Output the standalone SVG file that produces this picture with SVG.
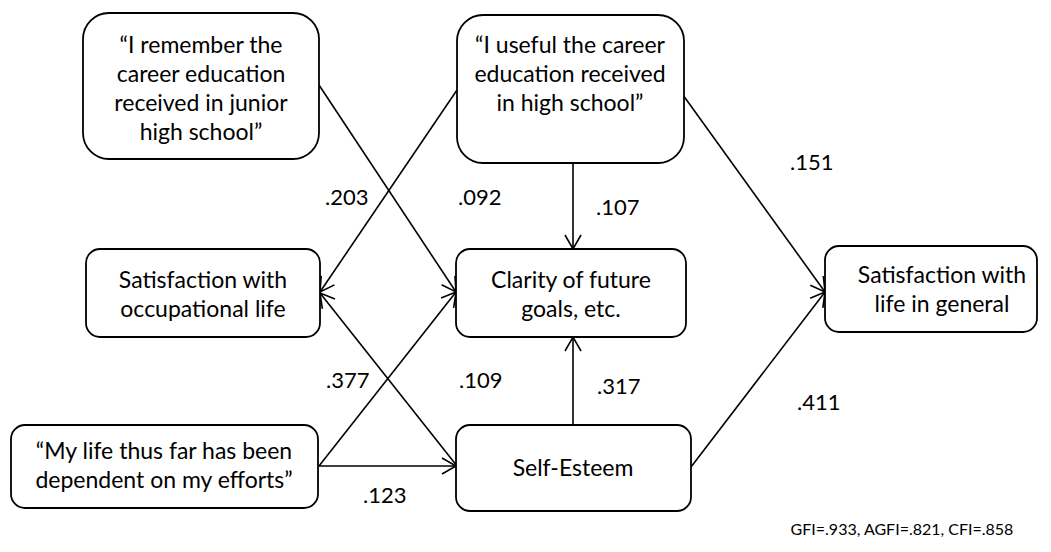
<svg xmlns="http://www.w3.org/2000/svg" width="1051" height="552" viewBox="0 0 1051 552">
<style>
.box{fill:#fff;stroke:#000;stroke-width:1.8}
.t{font-family:Lato,"Liberation Sans",sans-serif;font-size:23px;fill:#000;text-anchor:middle}
.l{font-family:Lato,"Liberation Sans",sans-serif;font-size:22px;fill:#000}
.e{stroke:#000;stroke-width:1.6;fill:none;marker-end:url(#ah)}
</style>
<defs>
<marker id="ah" markerUnits="userSpaceOnUse" markerWidth="20" markerHeight="20" refX="0" refY="0" viewBox="-16 -10 20 20" orient="auto" overflow="visible">
<path d="M-14,-8 L0,0 L-14,8" fill="none" stroke="#000" stroke-width="1.6"/>
</marker>
</defs>
<rect width="1051" height="552" fill="#fff"/>
<g id="connectors">
<line class="e" x1="319" y1="85" x2="456" y2="292"/>
<line class="e" x1="457" y1="90" x2="320" y2="292"/>
<line class="e" x1="573" y1="163" x2="573" y2="249"/>
<line class="e" x1="683" y1="95" x2="825" y2="292"/>
<line class="e" x1="319" y1="466" x2="456" y2="292"/>
<line class="e" x1="319" y1="466" x2="456" y2="466"/>
<line class="e" x1="457" y1="466" x2="320" y2="293"/>
<line class="e" x1="573" y1="425" x2="573" y2="337"/>
<line class="e" x1="691" y1="467" x2="825" y2="292"/>
</g>
<g id="n1"><rect class="box" x="83" y="13" width="236" height="146" rx="26"/>
<text class="t" x="201" y="53">“I remember the</text><text class="t" x="201" y="82">career education</text><text class="t" x="201" y="111">received in junior</text><text class="t" x="201" y="140">high school”</text></g>
<g id="n2"><rect class="box" x="457" y="15" width="227" height="148" rx="26"/>
<text class="t" x="570" y="53">“I useful the career</text><text class="t" x="570" y="82">education received</text><text class="t" x="570" y="111">in high school”</text></g>
<g id="n3"><rect class="box" x="86" y="249" width="234" height="88" rx="14"/>
<text class="t" x="203" y="288">Satisfaction with</text><text class="t" x="203" y="317">occupational life</text></g>
<g id="n4"><rect class="box" x="456" y="249" width="230" height="88" rx="14"/>
<text class="t" x="571" y="288">Clarity of future</text><text class="t" x="571" y="317">goals, etc.</text></g>
<g id="n5"><rect class="box" x="825" y="246" width="212" height="86" rx="14"/>
<text class="t" x="942" y="283">Satisfaction with</text><text class="t" x="942" y="312">life in general</text></g>
<g id="n6"><rect class="box" x="11" y="425" width="307" height="83" rx="14"/>
<text class="t" x="164" y="459">“My life thus far has been</text><text class="t" x="164" y="488">dependent on my efforts”</text></g>
<g id="n7"><rect class="box" x="456" y="425" width="235" height="86" rx="14"/>
<text class="t" x="573" y="476">Self-Esteem</text></g>
<g id="labels">
<text class="l" x="325" y="205">.203</text>
<text class="l" x="458" y="205">.092</text>
<text class="l" x="596" y="215">.107</text>
<text class="l" x="790" y="170">.151</text>
<text class="l" x="326" y="388">.377</text>
<text class="l" x="459" y="388">.109</text>
<text class="l" x="597" y="394">.317</text>
<text class="l" x="797" y="410">.411</text>
<text class="l" x="363" y="503">.123</text>
<text x="902" y="535" style="font-family:Lato,'Liberation Sans',sans-serif;font-size:16px;text-anchor:middle">GFI=.933, AGFI=.821, CFI=.858</text>
</g>
</svg>
